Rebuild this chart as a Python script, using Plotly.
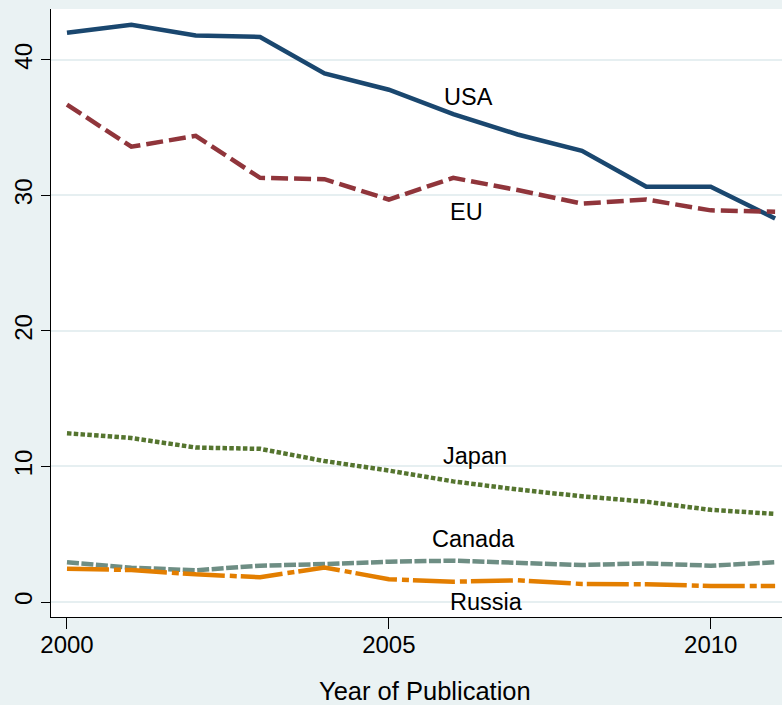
import plotly.graph_objects as go

# Share of publications by region, 2000-2011
years = list(range(2000, 2012))
usa = [42.0, 42.6, 41.8, 41.7, 39.0, 37.8, 36.0, 34.5, 33.3, 30.65, 30.65, 28.3]
eu = [36.7, 33.6, 34.4, 31.3, 31.2, 29.7, 31.3, 30.4, 29.4, 29.7, 28.9, 28.8]
japan = [12.45, 12.1, 11.4, 11.3, 10.4, 9.7, 8.9, 8.3, 7.8, 7.4, 6.8, 6.5]
canada = [2.93, 2.53, 2.34, 2.68, 2.8, 2.97, 3.05, 2.93, 2.73, 2.85, 2.68, 2.93]
russia = [2.46, 2.36, 2.04, 1.83, 2.55, 1.68, 1.5, 1.6, 1.33, 1.31, 1.18, 1.18]

y_ticks = [0, 10, 20, 30, 40]
x_ticks = [2000, 2005, 2010]

# label text and its position (year, value)
labels = [
    ("USA", 2006.24, 37.3),
    ("EU", 2006.21, 28.8),
    ("Japan", 2006.34, 10.8),
    ("Canada", 2006.31, 4.63),
    ("Russia", 2006.52, -0.02),
]

FONT = "Liberation Sans, Arial, sans-serif"
BG = "#EAF2F3"

series = [
    ("USA", usa, "#1a476f", "solid"),
    ("EU", eu, "#90353b", "17px,6px"),
    ("Japan", japan, "#55752f", "4.5px,2.3px"),
    ("Canada", canada, "#6e8e84", "12px,2.5px"),
    ("Russia", russia, "#e37e00", "42px,5px,7px,4px"),
]

fig = go.Figure()
for name, vals, color, dash in series:
    fig.add_trace(go.Scatter(
        x=years, y=vals, mode="lines", name=name,
        line=dict(color=color, width=4.5, dash=dash),
        showlegend=False,
    ))

for text, x, y in labels:
    fig.add_annotation(x=x, y=y, xref="x", yref="y", text=text, showarrow=False,
                       font=dict(family=FONT, size=23.5, color="black"),
                       xanchor="center", yanchor="middle")

fig.add_annotation(x=0.511, y=-0.1217, xref="paper", yref="paper",
                   text="Year of Publication", showarrow=False,
                   font=dict(family=FONT, size=25.5, color="black"),
                   xanchor="center", yanchor="middle")

fig.update_layout(
    width=782, height=705,
    margin=dict(l=51, r=0, t=9, b=88),
    paper_bgcolor=BG, plot_bgcolor="white",
    font=dict(family=FONT, size=23, color="black"),
    xaxis=dict(
        range=[1999.752, 2011.107], tickvals=x_ticks,
        showgrid=False, zeroline=False,
        showline=True, linecolor="black", linewidth=1.3,
        ticks="outside", ticklen=11, tickcolor="black", tickwidth=1.3,
        tickfont=dict(family=FONT, size=24, color="black"),
        ticklabelstandoff=-5,
    ),
    yaxis=dict(
        range=[-1.107, 43.76], tickvals=y_ticks,
        showgrid=True, gridcolor="#E6EFF1", gridwidth=2, zeroline=False,
        showline=True, linecolor="black", linewidth=1.3,
        ticks="outside", ticklen=9, tickcolor="black", tickwidth=1.3,
        tickangle=-90,
        tickfont=dict(family=FONT, size=24, color="black"),
        ticklabelstandoff=-1,
    ),
)

fig.write_html("out.html")
